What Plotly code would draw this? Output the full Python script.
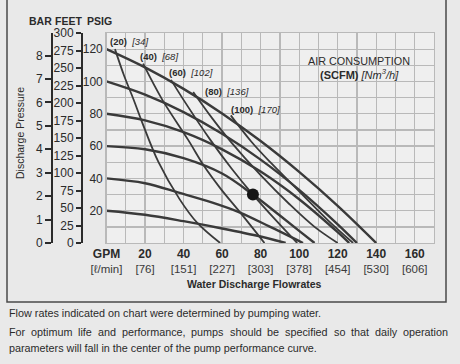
import plotly.graph_objects as go

W, H = 460, 364

# ---------------- data ----------------
gpm_ticks = [20, 40, 60, 80, 100, 120, 140, 160]
lpm_ticks = [76, 151, 227, 303, 378, 454, 530, 606]
psig_ticks = [20, 40, 60, 80, 100, 120]
feet_ticks = [0, 25, 50, 75, 100, 125, 150, 175, 200, 225, 250, 275, 300]
bar_ticks = [0, 1, 2, 3, 4, 5, 6, 7, 8]

# air inlet pressure curves (psig) : flow GPM -> discharge psig
p120_q = [0, 20, 40, 60, 80, 100, 120, 140]
p120_p = [120, 108.7, 95.4, 80.2, 63.1, 44, 23, 0]
p100_q = [0, 20, 40, 60, 80, 100, 120, 130]
p100_p = [100, 91.8, 81, 67.6, 51.6, 32.9, 11.6, 0]
p80_q = [0, 20, 40, 60, 80, 100, 120, 126]
p80_p = [80, 75.9, 68.6, 58, 44.2, 27.1, 6.7, 0]
p60_q = [0, 20, 40, 60, 76, 90, 100, 108]
p60_p = [60, 58, 52.5, 43, 30, 17, 7.5, 0]
p40_q = [0, 20, 38, 55, 69, 85, 97, 102]
p40_p = [40, 37, 31, 25, 19, 10, 3, 0]
p20_q = [0, 20, 40, 60, 80, 93]
p20_p = [20, 17.5, 13.5, 9, 4, 0]

# air consumption curves (SCFM)
s20_q = [4.4, 9, 14, 18.4, 27, 38, 47, 59]
s20_p = [120, 104, 89, 75, 50, 27, 12.6, 0]
s40_q = [19, 29, 42.3, 51, 59, 70, 82]
s40_p = [111, 88.6, 64, 47, 34, 18, 0]
s60_q = [33.5, 40, 53.8, 65, 76, 88, 99]
s60_p = [101, 88.6, 64, 46, 30, 14, 0]
s80_q = [45, 55, 65, 80, 95, 108, 120]
s80_p = [93.5, 77, 62, 42, 24, 10, 0]
s100_q = [64.5, 75, 85, 100, 115, 128]
s100_p = [79, 63, 50, 32, 14, 0]

scfm_labels = ["20", "40", "60", "80", "100"]
nm3h_labels = ["34", "68", "102", "136", "170"]
label_q = [0.8, 16.4, 31.4, 50.1, 63.6]
label_p = [124.8, 115.5, 105.6, 93.8, 82.7]

op_q = [76]
op_p = [30]

note_1 = "Flow rates indicated on chart were determined by pumping water."
note_2 = "For optimum life and performance, pumps should be specified so that daily operation"
note_3 = "parameters will fall in the center of the pump performance curve."

# ---------------- helpers ----------------
def px(x):
    return x / W

def py(y):
    return 1 - y / H

# approximate Arial / Liberation Sans advance widths (per em) for justification
AW = {" ": .278, ",": .278, ".": .278, "F": .611, "P": .667}
for c in "abdeghnopqu":
    AW[c] = .556
for c in "cksvxyz":
    AW[c] = .5
for c in "ft":
    AW[c] = .278
for c in "ijl":
    AW[c] = .222
AW["m"] = .833
AW["r"] = .333
AW["w"] = .722

def text_w(s, size):
    return sum(AW.get(c, .556) for c in s) * size

FONT = "Liberation Sans, Arial, sans-serif"
INK = "#2b2b2b"
GRID = "#b9b9b9"
CURVE = "#3a3a3a"

fig = go.Figure()

for q, p in [(p120_q, p120_p), (p100_q, p100_p), (p80_q, p80_p),
             (p60_q, p60_p), (p40_q, p40_p), (p20_q, p20_p)]:
    fig.add_trace(go.Scatter(x=q, y=p, mode="lines",
                             line=dict(color=CURVE, width=2.4, shape="spline", smoothing=1.0),
                             hoverinfo="skip", showlegend=False))

for q, p in [(s20_q, s20_p), (s40_q, s40_p), (s60_q, s60_p),
             (s80_q, s80_p), (s100_q, s100_p)]:
    fig.add_trace(go.Scatter(x=q, y=p, mode="lines",
                             line=dict(color=CURVE, width=1.8, shape="spline", smoothing=1.0),
                             hoverinfo="skip", showlegend=False))

fig.add_trace(go.Scatter(x=op_q, y=op_p, mode="markers",
                         marker=dict(color="#151515", size=12),
                         hoverinfo="skip", showlegend=False))

# invisible traces to anchor the extra axes
fig.add_trace(go.Scatter(x=[0], y=[0], yaxis="y2", mode="markers",
                         marker=dict(opacity=0), hoverinfo="skip", showlegend=False))
fig.add_trace(go.Scatter(x=[0], y=[0], yaxis="y3", mode="markers",
                         marker=dict(opacity=0), hoverinfo="skip", showlegend=False))
fig.add_trace(go.Scatter(x=[0], y=[0], xaxis="x2", mode="markers",
                         marker=dict(opacity=0), hoverinfo="skip", showlegend=False))

x_vals = list(range(0, 171, 10))
x_text, x2_text = [], []
for v in x_vals:
    if v == 0:
        x_text.append("<b>GPM</b>")
        x2_text.append("[ℓ/min]")
    elif v in gpm_ticks:
        x_text.append(f"<b>{v}</b>")
        x2_text.append(f"[{lpm_ticks[gpm_ticks.index(v)]}]")
    else:
        x_text.append("")
        x2_text.append("")

y_vals = list(range(0, 131, 10))
y_text = [str(v) if v in psig_ticks else "" for v in y_vals]

x0, x1 = 106.5, 434
y0, y1 = 33, 243

TICKF = dict(size=12, family=FONT, color=INK)

fig.update_layout(
    width=W, height=H,
    margin=dict(l=0, r=0, t=0, b=0, autoexpand=False),
    paper_bgcolor="#e9e9e9",
    plot_bgcolor="#efefef",
    font=dict(family=FONT, color=INK, size=12),
    xaxis=dict(domain=[px(x0), px(x1)], range=[0, 170], tickvals=x_vals, ticktext=x_text,
               showgrid=True, gridcolor=GRID, gridwidth=1.3, zeroline=False,
               showline=True, linecolor=GRID, linewidth=1.3, mirror=True, automargin=False,
               ticks="", ticklabelstandoff=-1, tickfont=TICKF, fixedrange=True),
    xaxis2=dict(overlaying="x", anchor="free", position=py(260), side="bottom",
                range=[0, 170], tickvals=x_vals, ticktext=x2_text, showgrid=False,
                zeroline=False, showline=False, ticks="", automargin=False,
                tickfont=dict(size=11.5, family=FONT, color="#3a3a3a"), fixedrange=True),
    yaxis=dict(domain=[py(y1), py(y0)], range=[0, 130], tickvals=y_vals, ticktext=y_text,
               showgrid=True, gridcolor=GRID, gridwidth=1.3, zeroline=False,
               showline=True, linecolor=GRID, linewidth=1.3, mirror=True, automargin=False,
               ticks="", tickfont=TICKF, fixedrange=True),
    yaxis2=dict(overlaying="y", anchor="free", position=px(82), side="left",
                range=[0, 300], tickvals=feet_ticks, showgrid=False, zeroline=False,
                showline=True, linecolor=INK, linewidth=2, ticks="outside", ticklen=5,
                tickwidth=2, tickcolor=INK, automargin=False,
                tickfont=TICKF, fixedrange=True),
    yaxis3=dict(overlaying="y", anchor="free", position=px(52), side="left",
                range=[0, 130 / 14.5038], tickvals=bar_ticks, showgrid=False, zeroline=False,
                showline=True, linecolor=INK, linewidth=2, ticks="outside", ticklen=6,
                tickwidth=2, tickcolor=INK, automargin=False,
                tickfont=TICKF, fixedrange=True),
)

ann = []
def txt(x, y, s, size=12, xanchor="center", yanchor="middle", angle=0):
    ann.append(dict(x=px(x), y=py(y), xref="paper", yref="paper", text=s, showarrow=False,
                    xanchor=xanchor, yanchor=yanchor, textangle=angle,
                    font=dict(size=size, family=FONT, color=INK)))

txt(40, 21, "<b>BAR</b>", 10.5)
txt(68.5, 21, "<b>FEET</b>", 10.5)
txt(99, 21, "<b>PSIG</b>", 10.5)
txt(20, 133, "Discharge Pressure", 10.5, angle=-90)
txt(254, 284, "<b>Water Discharge Flowrates</b>", 10.5)
txt(359, 61, "AIR CONSUMPTION", 10.8)
txt(359, 74, "<b>(SCFM)</b> <i>[Nm<sup>3</sup>/h]</i>", 11)

for s, n, q, p in zip(scfm_labels, nm3h_labels, label_q, label_p):
    ann.append(dict(x=q, y=p, xref="x", yref="y", text=f"<b>({s})</b>  <i>[{n}]</i>",
                    showarrow=False, xanchor="left", yanchor="middle",
                    font=dict(size=9.5, family=FONT, color=INK)))

NOTE_SIZE = 10.8
txt(7, 313, note_1, NOTE_SIZE, xanchor="left")
# justified line
words = note_2.split(" ")
widths = [text_w(w_, NOTE_SIZE) for w_ in words]
gap = (446 - 7 - sum(widths)) / (len(words) - 1)
xpos = 7
for w_, wd in zip(words, widths):
    txt(xpos, 332, w_, NOTE_SIZE, xanchor="left")
    xpos += wd + gap
txt(7, 348, note_3, NOTE_SIZE, xanchor="left")

fig.update_layout(annotations=ann)

fig.add_shape(type="rect", xref="paper", yref="paper",
              x0=px(7), x1=px(446), y0=py(302), y1=py(-5),
              line=dict(color="#4a4a4a", width=1.5), fillcolor="rgba(0,0,0,0)", layer="below")

fig.write_html("out.html", config={"displayModeBar": False, "staticPlot": True},
               post_script="document.body.style.margin='0px';document.body.style.overflow='hidden';")
